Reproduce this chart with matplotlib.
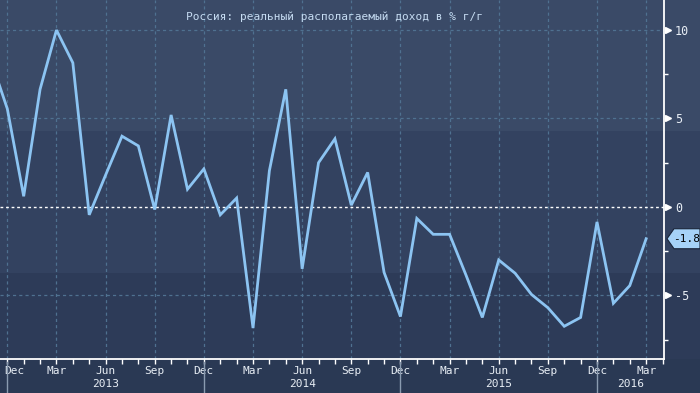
import numpy as np
import pandas as pd
import matplotlib
matplotlib.use("Agg")
import matplotlib.pyplot as plt
from matplotlib.patches import Polygon
from matplotlib.transforms import blended_transform_factory, ScaledTranslation

# Real disposable income, % y/y (Nov 2012 - Mar 2016)
months = pd.date_range("2012-11-01", "2016-03-01", freq="MS")
values = [8.3, 5.55,
          0.6, 6.65, 10.0, 8.15, -0.45, 1.8, 4.0, 3.45, -0.15, 5.2, 1.0, 2.15,
          -0.45, 0.5, -6.85, 2.05, 6.65, -3.5, 2.5, 3.85, 0.1, 1.95, -3.7, -6.2,
          -0.65, -1.55, -1.55, -3.85, -6.25, -3.0, -3.75, -4.95, -5.7, -6.75, -6.25, -0.85,
          -5.45, -4.45, -1.8]
last_label = "-1.8"
title = "Россия: реальный располагаемый доход в % г/г"
month_abbr = {12: "Dec", 3: "Mar", 6: "Jun", 9: "Sep"}
yticks_major = [-5, 0, 5, 10]
yticks_minor = [-7.5, -2.5, 2.5, 7.5]

plt.rcParams["font.family"] = ["DejaVu Sans Mono", "DejaVu Sans"]

W, H = 700, 393
fig = plt.figure(figsize=(W / 100, H / 100), dpi=100)

# background bands (figure level)
bg = fig.add_axes([0, 0, 1, 1], zorder=-10)
bg.set_xlim(0, 1)
bg.set_ylim(0, 1)
bg.axis("off")
bands = [(1 - 131 / H, 1, "#3a4a67"),
         (1 - 273 / H, 1 - 131 / H, "#334260"),
         (1 - 359 / H, 1 - 273 / H, "#2d3b58"),
         (0, 1 - 359 / H, "#2a3954")]
for y0, y1, c in bands:
    bg.axhspan(y0, y1, color=c, lw=0)

ax = fig.add_axes([0, 1 - 359 / H, 664 / W, 359 / H])
ax.patch.set_alpha(0)

x = np.arange(len(months))
ax.plot(x, values, color="#8cc4f2", lw=2, solid_joinstyle="miter", zorder=5)

# grid
grid_c = "#4f7190"
for i, m in enumerate(months):
    if m.month in month_abbr:
        ax.axvline(i, color=grid_c, lw=0.9, ls=(0, (2.5, 2.5)), zorder=1)
for v in yticks_major:
    if v == 0:
        ax.axhline(0, color="white", lw=1.0, ls=(0, (2, 2)), zorder=2)
    else:
        ax.axhline(v, color=grid_c, lw=0.9, ls=(0, (2.5, 2.5)), zorder=1)

# spines
for s in ["left", "top"]:
    ax.spines[s].set_visible(False)
for s in ["right", "bottom"]:
    ax.spines[s].set_color("white")
    ax.spines[s].set_linewidth(1.3)

# x ticks: every month, labels on quarters
tick_pos = list(x[1:]) + [len(months)]
tick_lab = [month_abbr.get(m.month, "") for m in months[1:]] + [""]
ax.set_xticks(tick_pos)
ax.set_xticklabels(tick_lab)
ax.tick_params(axis="x", direction="out", length=3.5, width=1, color="white",
               pad=1.5, labelsize=8, labelcolor="#e8eef5")
first = ax.get_xticklabels()[0]
first.set_ha("left")
first.set_transform(first.get_transform() + ScaledTranslation(-3 / 100, 0, fig.dpi_scale_trans))

# y ticks on the right
ax.yaxis.tick_right()
ax.set_yticks(yticks_major)
ax.set_yticklabels([str(v) for v in yticks_major])
ax.set_yticks(yticks_minor, minor=True)
ax.tick_params(axis="y", which="major", length=0, pad=8, labelsize=8.5,
               labelcolor="#e8eef5")
ax.tick_params(axis="y", which="minor", direction="out", length=3, width=1,
               color="white")

ax.set_xlim(0.554, 41.09)
ax.set_ylim(-8.6, 11.7)

tri_tr = blended_transform_factory(ax.transAxes, ax.transData)
ax.plot([1.006] * len(yticks_major), yticks_major, ">", color="white", ms=5,
        mec="white", transform=tri_tr, clip_on=False, zorder=6)

# year labels and separators
yr_tr = blended_transform_factory(ax.transData, fig.transFigure)
years = sorted(set(m.year for m in months if m.year > 2012))
dec_idx = [i for i, m in enumerate(months) if m.month == 12]
for i in dec_idx:
    ax.plot([i, i], [1 - 362 / H, 0], color="#8a9bb0", lw=1, transform=yr_tr,
            clip_on=False)
edges = dec_idx + [ax.get_xlim()[1]]
for k, yr in enumerate(years):
    ax.text((edges[k] + edges[k + 1]) / 2, 1 - 384 / H, str(yr), transform=yr_tr,
            ha="center", va="center", fontsize=8, color="#e8eef5")

# title
fig.text(335 / W, 1 - 17 / H, title, ha="center", va="center", fontsize=8,
         color="#c6dcf2")

# last value tag, anchored at the spine at the last value (offsets in inches)
tag_tr = fig.dpi_scale_trans + ScaledTranslation(1.0, values[-1], tri_tr)
tag = Polygon([(0.03, 0), (0.10, 0.10), (0.36, 0.10), (0.36, -0.10), (0.10, -0.10)],
              closed=True, transform=tag_tr, fc="#a6d2f7", ec="#1a2438", lw=0.8,
              clip_on=False, zorder=7)
ax.add_patch(tag)
ax.text(0.225, 0, last_label, transform=tag_tr, ha="center", va="center",
        fontsize=8, color="black", zorder=8, clip_on=False)

ax.set_xlim(0.554, 41.09)
ax.set_ylim(-8.6, 11.7)

fig.savefig("out.png", dpi=100)
